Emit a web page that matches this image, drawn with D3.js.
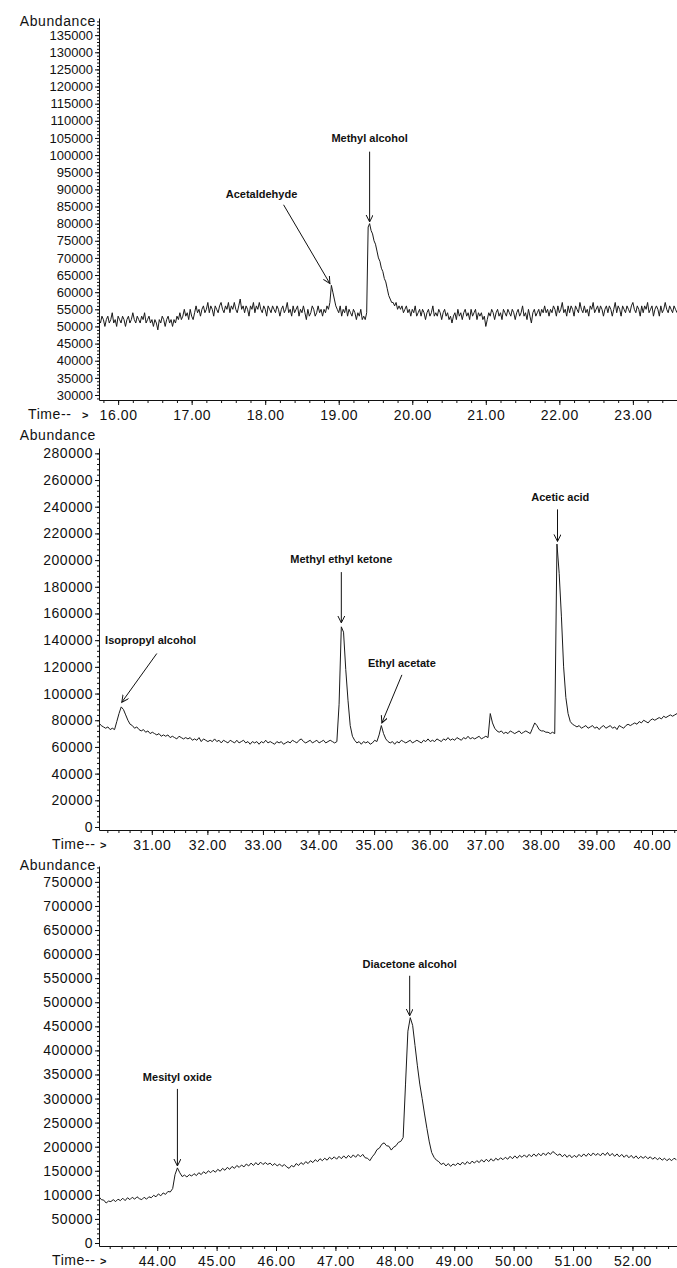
<!DOCTYPE html>
<html>
<head>
<meta charset="utf-8">
<script src="https://cdn.jsdelivr.net/npm/d3@7"></script>
<style>
  body { margin: 0; background: #fff; }
  svg text { font-family: 'Liberation Sans', Arial, sans-serif; fill: #111; }
</style>
</head>
<body>
<div id="chart"></div>
<script>
// scans are stored as abundance (in thousands) at a fixed scan interval
const topStart = 15.74
const topStep = 0.02
const topAbundance = [
  52, 51, 53, 52, 50, 52, 53, 51, 52, 54,
  51, 52, 50, 53, 52, 51, 53, 52, 50, 52,
  53, 51, 52, 54, 52, 51, 53, 52, 51, 53,
  52, 54, 51, 52, 53, 51, 52, 50, 52, 51,
  49, 52, 51, 53, 52, 50, 52, 53, 51, 52,
  50, 52, 51, 53, 52, 54, 52, 53, 55, 53,
  54, 52, 55, 53, 52, 54, 56, 54, 55, 53,
  55, 56, 54, 55, 57, 54, 56, 55, 53, 56,
  55, 54, 56, 57, 55, 54, 56, 55, 57, 54,
  56, 55, 57, 55, 54, 56, 58, 55, 56, 54,
  56, 55, 53, 56, 55, 57, 54, 56, 55, 57,
  55, 54, 56, 55, 53, 56, 55, 54, 56, 55,
  54, 56, 55, 53, 55, 56, 54, 55, 57, 54,
  55, 53, 56, 54, 55, 56, 53, 55, 54, 56,
  54, 52, 55, 53, 54, 56, 55, 53, 54, 56,
  54, 55, 53, 55, 54, 56, 55, 57, 62, 60,
  58, 56, 55, 54, 56, 53, 55, 54, 56, 53,
  55, 54, 53, 55, 54, 52, 54, 53, 55, 52,
  53, 52, 54, 79, 80, 78, 77, 75, 74, 72,
  70, 69, 67, 66, 64, 63, 61, 59, 58, 57,
  57, 56, 57, 55, 56, 55, 56, 54, 55, 56,
  54, 55, 53, 55, 54, 56, 53, 54, 55, 53,
  55, 54, 52, 54, 55, 53, 54, 56, 53, 54,
  53, 55, 54, 52, 54, 55, 53, 54, 52, 53,
  51, 53, 54, 52, 55, 53, 54, 52, 54, 55,
  53, 54, 52, 55, 53, 54, 55, 52, 54, 53,
  54, 52, 53, 50, 52, 54, 53, 55, 54, 52,
  54, 55, 53, 54, 52, 55, 54, 53, 55, 54,
  53, 55, 54, 52, 54, 55, 53, 54, 56, 53,
  54, 52, 55, 53, 51, 54, 55, 53, 54, 55,
  53, 55, 54, 56, 54, 55, 53, 55, 54, 56,
  55, 53, 56, 54, 55, 57, 54, 55, 53, 56,
  54, 56, 55, 53, 56, 55, 54, 57, 55, 54,
  56, 54, 55, 53, 56, 55, 57, 54, 55, 56,
  54, 56, 55, 53, 55, 56, 54, 56, 55, 53,
  55, 57, 54, 56, 55, 53, 56, 55, 54, 56,
  55, 54, 56, 57, 55, 54, 56, 55, 53, 56,
  54, 56, 55, 57, 54, 55, 56, 53, 55, 56,
  55, 53, 56, 54, 55, 57, 55, 54, 56, 55,
  54, 56, 55, 54
]

const midStart = 30.05
const midStep = 0.04
const midAbundance = [
  78, 76, 75, 74, 75, 73, 74, 73, 79, 85,
  90, 88, 84, 80, 77, 76, 74, 75, 73, 72,
  73, 71, 72, 70, 71, 70, 69, 70, 68, 69,
  68, 69, 67, 68, 67, 66, 68, 67, 66, 67,
  66, 67, 65, 66, 65, 67, 64, 66, 65, 64,
  65, 64, 66, 64, 65, 63, 65, 64, 63, 65,
  64, 63, 65, 63, 64, 65, 63, 64, 62, 64,
  63, 64, 62, 64, 63, 65, 63, 64, 63, 62,
  64, 63, 64, 62, 63, 64, 63, 65, 64, 63,
  65, 66, 64, 63, 64, 65, 63, 64, 65, 63,
  64, 65, 63, 64, 65, 64, 63, 64, 92, 150,
  146, 118, 95, 76, 68, 65, 63, 64, 62, 64,
  63, 64, 62, 63, 65, 64, 69, 76, 70, 66,
  64, 63, 64, 62, 64, 63, 65, 64, 63, 64,
  65, 63, 64, 65, 64, 63, 65, 64, 66, 64,
  65, 64, 66, 65, 64, 66, 65, 67, 65, 66,
  65, 67, 66, 65, 67, 66, 68, 66, 67, 66,
  67, 68, 66, 67, 68, 67, 85, 78, 74, 72,
  71, 72, 70, 71, 70, 72, 71, 70, 71, 72,
  70, 71, 72, 71, 70, 74, 78, 76, 73, 72,
  72, 71, 71, 70, 71, 70, 212, 190, 158, 120,
  97, 85, 79, 77, 76, 75, 76, 74, 75, 76,
  74, 75, 76, 74, 75, 73, 75, 76, 74, 75,
  76, 74, 75, 73, 76, 75, 74, 76, 77, 76,
  77, 78, 77, 79, 78, 80, 79, 78, 80, 81,
  80, 81, 82, 81, 83, 82, 83, 84, 83, 84,
  85
]

const lowStart = 43.02
const lowStep = 0.04
const lowAbundance = [
  96, 90, 89, 83, 87, 86, 90, 86, 91, 88,
  93, 88, 94, 90, 95, 91, 96, 92, 90, 95,
  91, 96, 94, 99, 96, 102, 98, 104, 101, 107,
  106, 113, 142, 156, 146, 138, 141, 137, 142, 139,
  144, 140, 146, 142, 148, 144, 150, 146, 151, 147,
  153, 149, 155, 151, 157, 153, 159, 155, 161, 157,
  162, 158, 164, 160, 166, 161, 167, 162, 168, 163,
  167, 163, 166, 161, 165, 160, 164, 159, 163, 158,
  155, 161, 158, 165, 161, 167, 163, 169, 165, 171,
  167, 173, 169, 175, 171, 176, 172, 178, 174, 179,
  174, 180, 175, 181, 176, 182, 177, 183, 178, 184,
  179, 184, 177, 176, 171, 179, 185, 194, 197, 205,
  208, 202, 201, 193, 199, 202, 209, 211, 219, 330,
  440, 468, 452, 410, 368, 330, 300, 268, 238, 210,
  188, 178, 172, 169, 163, 166, 160, 165, 159, 164,
  161, 166, 162, 168, 163, 169, 164, 170, 166, 171,
  167, 173, 168, 174, 169, 175, 170, 176, 172, 177,
  173, 178, 174, 180, 175, 181, 176, 182, 178, 183,
  178, 184, 179, 185, 180, 186, 181, 187, 182, 188,
  184, 190, 186, 182, 185, 179, 184, 178, 183, 177,
  182, 178, 184, 179, 185, 180, 186, 181, 187, 182,
  186, 181, 187, 182, 188, 181, 186, 180, 185, 179,
  184, 178, 183, 177, 182, 176, 181, 175, 180, 176,
  180, 175, 179, 174, 178, 173, 177, 172, 176, 171,
  175, 171, 176, 173
]

const topXTicks = [16, 17, 18, 19, 20, 21, 22, 23]
const midXTicks = [31, 32, 33, 34, 35, 36, 37, 38, 39, 40]
const lowXTicks = [44, 45, 46, 47, 48, 49, 50, 51, 52]

const topYTicks = [30000, 35000, 40000, 45000, 50000, 55000, 60000, 65000, 70000, 75000, 80000,
  85000, 90000, 95000, 100000, 105000, 110000, 115000, 120000, 125000, 130000, 135000]
const midYTicks = [0, 20000, 40000, 60000, 80000, 100000, 120000, 140000, 160000, 180000,
  200000, 220000, 240000, 260000, 280000]
const lowYTicks = [0, 50000, 100000, 150000, 200000, 250000, 300000, 350000, 400000, 450000,
  500000, 550000, 600000, 650000, 700000, 750000]

// peak labels: text point and arrow from/to, in minutes and abundance
const topNotes = [
  { label: 'Acetaldehyde', tx: 17.95, ty: 88500, x1: 18.25, y1: 85500, x2: 18.88, y2: 62500 },
  { label: 'Methyl alcohol', tx: 19.42, ty: 105000, x1: 19.42, y1: 101000, x2: 19.42, y2: 80500 }
]
const midNotes = [
  { label: 'Isopropyl alcohol', tx: 30.16, ty: 140000, x1: 31.09, y1: 130000, x2: 30.46, y2: 93500, anchor: 'start' },
  { label: 'Methyl ethyl ketone', tx: 34.41, ty: 201000, x1: 34.41, y1: 191000, x2: 34.41, y2: 153000 },
  { label: 'Ethyl acetate', tx: 35.5, ty: 123000, x1: 35.5, y1: 114000, x2: 35.14, y2: 78000 },
  { label: 'Acetic acid', tx: 38.35, ty: 247000, x1: 38.3, y1: 238000, x2: 38.3, y2: 214000 }
]
const lowNotes = [
  { label: 'Mesityl oxide', tx: 44.34, ty: 345000, x1: 44.34, y1: 320000, x2: 44.34, y2: 160000 },
  { label: 'Diacetone alcohol', tx: 48.25, ty: 580000, x1: 48.25, y1: 555000, x2: 48.25, y2: 472000 }
]

const width = 677
const height = 1268
const left = 99

const svg = d3
  .select('#chart')
  .append('svg')
  .attr('width', width)
  .attr('height', height)

svg
  .append('defs')
  .append('marker')
  .attr('id', 'arrow')
  .attr('markerUnits', 'userSpaceOnUse')
  .attr('markerWidth', 10)
  .attr('markerHeight', 10)
  .attr('refX', 7)
  .attr('refY', 3.5)
  .attr('orient', 'auto')
  .append('path')
  .attr('d', 'M0,0 L7,3.5 L0,7')
  .attr('fill', 'none')
  .attr('stroke', '#111')
  .attr('stroke-width', 1)

const panels = [
  {
    start: topStart, step: topStep, values: topAbundance,
    xDomain: [15.74, 23.6], yDomain: [28540, 140000], top: 18, bottom: 400,
    xTicks: topXTicks, yTicks: topYTicks, yMinor: 1000, yFont: 13,
    labelY: 21, timeX: 28, arrowX: 82, notes: topNotes
  },
  {
    start: midStart, step: midStep, values: midAbundance,
    xDomain: [30.05, 40.45], yDomain: [-2250, 284000], top: 448, bottom: 830,
    xTicks: midXTicks, yTicks: midYTicks, yMinor: 4000, yFont: 14,
    labelY: 435, timeX: 52, arrowX: 100, notes: midNotes
  },
  {
    start: lowStart, step: lowStep, values: lowAbundance,
    xDomain: [43.02, 52.75], yDomain: [-6250, 783000], top: 866, bottom: 1246,
    xTicks: lowXTicks, yTicks: lowYTicks, yMinor: 10000, yFont: 14,
    labelY: 865, timeX: 52, arrowX: 100, notes: lowNotes
  }
]

panels.forEach(function(p, n) {
  const g = svg.append('g')

  const xPositionScale = d3.scaleLinear().domain(p.xDomain).range([left, width])
  const yPositionScale = d3.scaleLinear().domain(p.yDomain).range([p.bottom, p.top])

  g.append('clipPath')
    .attr('id', 'clip' + n)
    .append('rect')
    .attr('x', left)
    .attr('y', p.top)
    .attr('width', width - left)
    .attr('height', p.bottom - p.top)

  const line = d3
    .line()
    .x((d, i) => xPositionScale(p.start + i * p.step))
    .y(d => yPositionScale(d * 1000))

  g.append('path')
    .datum(p.values)
    .attr('d', line)
    .attr('clip-path', 'url(#clip' + n + ')')
    .attr('fill', 'none')
    .attr('stroke', '#1a1a1a')
    .attr('stroke-width', 1)
    .attr('stroke-linejoin', 'round')

  // minor ticks first, then the labelled axis on top
  const yMinorTicks = d3.range(Math.ceil(p.yDomain[0] / p.yMinor) * p.yMinor, p.yDomain[1], p.yMinor)
  const yMinorAxis = g.append('g')
    .attr('transform', 'translate(' + left + ',0)')
    .call(d3.axisLeft(yPositionScale).tickValues(yMinorTicks).tickSize(2).tickFormat(''))
  yMinorAxis.select('.domain').remove()

  const yAxis = g.append('g')
    .attr('class', 'axis y-axis')
    .attr('transform', 'translate(' + left + ',0)')
    .call(
      d3.axisLeft(yPositionScale)
        .tickValues(p.yTicks)
        .tickSize(4)
        .tickSizeOuter(0)
        .tickPadding(2)
        .tickFormat(d3.format('d'))
    )
  yAxis.selectAll('text')
    .attr('font-size', p.yFont)
    .attr('letter-spacing', p.yFont > 13 ? 0.5 : 0)

  const xMinorTicks = d3.range(Math.ceil(p.xDomain[0] * 5) / 5, p.xDomain[1], 0.2)
  const xMinorAxis = g.append('g')
    .attr('transform', 'translate(0,' + p.bottom + ')')
    .call(d3.axisBottom(xPositionScale).tickValues(xMinorTicks).tickSize(3).tickFormat(''))
  xMinorAxis.select('.domain').remove()

  const xAxis = g.append('g')
    .attr('class', 'axis x-axis')
    .attr('transform', 'translate(0,' + p.bottom + ')')
    .call(
      d3.axisBottom(xPositionScale)
        .tickValues(p.xTicks)
        .tickSize(5)
        .tickSizeOuter(0)
        .tickPadding(5)
        .tickFormat(d3.format('.2f'))
    )
  xAxis.selectAll('text')
    .attr('font-size', 14)
    .attr('letter-spacing', 0.6)

  svg.selectAll('.axis .domain').attr('stroke', '#111')
  svg.selectAll('g line').attr('stroke', '#111')

  g.append('text')
    .text('Abundance')
    .attr('x', 96)
    .attr('y', p.labelY)
    .attr('dy', '0.35em')
    .attr('text-anchor', 'end')
    .attr('font-size', 14)
    .attr('letter-spacing', 0.6)

  const timeLabel = g.append('text')
    .attr('y', p.bottom + 14)
    .attr('dy', '0.35em')
    .attr('font-size', 14)
  timeLabel.append('tspan')
    .attr('x', p.timeX)
    .attr('letter-spacing', 0.6)
    .text('Time--')
  timeLabel.append('tspan')
    .attr('x', p.arrowX)
    .attr('font-weight', 'bold')
    .attr('font-size', 11)
    .text('>')

  const notes = g.selectAll('.note')
    .data(p.notes)
    .enter()
    .append('g')
    .attr('class', 'note')

  notes.append('text')
    .text(d => d.label)
    .attr('x', d => xPositionScale(d.tx))
    .attr('y', d => yPositionScale(d.ty))
    .attr('dy', '0.35em')
    .attr('text-anchor', d => d.anchor || 'middle')
    .attr('font-size', 11)
    .attr('font-weight', 'bold')

  notes.append('line')
    .attr('x1', d => xPositionScale(d.x1))
    .attr('y1', d => yPositionScale(d.y1))
    .attr('x2', d => xPositionScale(d.x2))
    .attr('y2', d => yPositionScale(d.y2))
    .attr('stroke', '#111')
    .attr('stroke-width', 1)
    .attr('marker-end', 'url(#arrow)')
})
</script>
</body>
</html>
